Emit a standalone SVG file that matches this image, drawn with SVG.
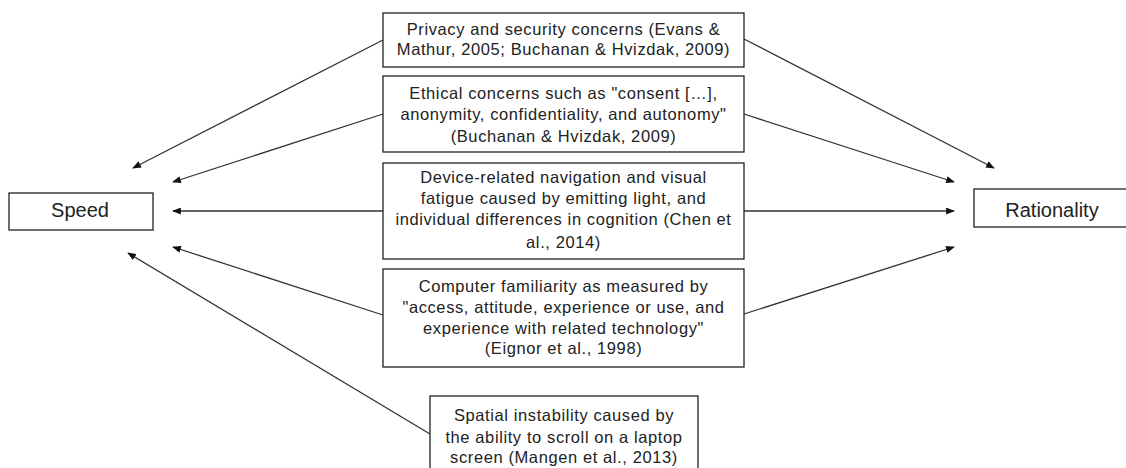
<svg xmlns="http://www.w3.org/2000/svg" width="1126" height="468" viewBox="0 0 1126 468">
<style>
.box{fill:#fff;stroke:#222;stroke-width:1.3}
.t{font-family:"Liberation Sans",Arial,sans-serif;font-size:16.5px;letter-spacing:0.6px;fill:#222;text-anchor:middle}
.tl{font-family:"Liberation Sans",Arial,sans-serif;font-size:20px;fill:#222;text-anchor:middle}
.c{stroke:#333;stroke-width:1.3;fill:none;marker-end:url(#ah)}
</style>
<defs>
<marker id="ah" viewBox="0 0 10 8" refX="9" refY="4" markerWidth="9" markerHeight="7" markerUnits="userSpaceOnUse" orient="auto">
<path d="M0,0 L10,4 L0,8 Z" fill="#111"/>
</marker>
</defs>
<rect width="1126" height="468" fill="#fff"/>
<g id="connectors">
<line class="c" x1="383" y1="40" x2="133" y2="168"/>
<line class="c" x1="383" y1="114" x2="173" y2="182"/>
<line class="c" x1="383" y1="211" x2="173" y2="211"/>
<line class="c" x1="383" y1="315" x2="173" y2="247"/>
<line class="c" x1="430" y1="434" x2="128" y2="253"/>
<line class="c" x1="744" y1="39" x2="994" y2="168"/>
<line class="c" x1="744" y1="114" x2="954" y2="182"/>
<line class="c" x1="744" y1="211" x2="954" y2="211"/>
<line class="c" x1="744" y1="314" x2="954" y2="247"/>
</g>
<g id="speed">
<rect class="box" x="9" y="193" width="144" height="37"/>
<text class="tl" x="80" y="217">Speed</text>
</g>
<g id="rationality">
<rect class="box" x="974" y="189" width="160" height="38"/>
<text class="tl" x="1052" y="217">Rationality</text>
</g>
<g id="privacy">
<rect class="box" x="383" y="13" width="361" height="54"/>
<text class="t" x="563.5" y="35">Privacy and security concerns (Evans &amp;</text>
<text class="t" x="563.5" y="55">Mathur, 2005; Buchanan &amp; Hvizdak, 2009)</text>
</g>
<g id="ethical">
<rect class="box" x="383" y="76" width="361" height="76"/>
<text class="t" x="563.5" y="99">Ethical concerns such as "consent […],</text>
<text class="t" x="563.5" y="120">anonymity, confidentiality, and autonomy"</text>
<text class="t" x="563.5" y="141.5">(Buchanan &amp; Hvizdak, 2009)</text>
</g>
<g id="device">
<rect class="box" x="383" y="163" width="361" height="96"/>
<text class="t" x="563.5" y="183">Device-related navigation and visual</text>
<text class="t" x="563.5" y="204">fatigue caused by emitting light, and</text>
<text class="t" x="563.5" y="225">individual differences in cognition (Chen et</text>
<text class="t" x="563.5" y="248">al., 2014)</text>
</g>
<g id="computer">
<rect class="box" x="383" y="269" width="361" height="98"/>
<text class="t" x="563.5" y="292">Computer familiarity as measured by</text>
<text class="t" x="563.5" y="313">"access, attitude, experience or use, and</text>
<text class="t" x="563.5" y="334">experience with related technology"</text>
<text class="t" x="563.5" y="354">(Eignor et al., 1998)</text>
</g>
<g id="spatial">
<rect class="box" x="430" y="396" width="268" height="80"/>
<text class="t" x="564" y="420.5">Spatial instability caused by</text>
<text class="t" x="564" y="442.5">the ability to scroll on a laptop</text>
<text class="t" x="564" y="463">screen (Mangen et al., 2013)</text>
</g>
</svg>
